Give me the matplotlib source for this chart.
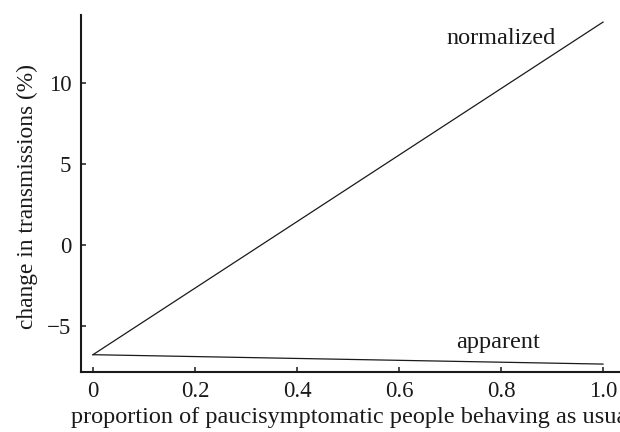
import matplotlib
matplotlib.use("Agg")
import matplotlib.pyplot as plt

plt.rcParams['font.family'] = ['Liberation Serif', 'DejaVu Serif']
plt.rcParams['mathtext.fontset'] = 'stix'

proportion = [0.0, 1.0]
normalized = [-6.77, 13.77]
apparent = [-6.77, -7.35]
xticks = [0, 0.2, 0.4, 0.6, 0.8, 1.0]
xticklabels = ['0', '0.2', '0.4', '0.6', '0.8', '1.0']
yticks = [-5, 0, 5, 10]
yticklabels = ['\u22125', '0', '5', '10']

fig = plt.figure(figsize=(6.2, 4.32), dpi=100)
ax = fig.add_axes([0.1306, 0.1396, 0.8694, 0.8254])

ax.plot(proportion, normalized, color='#1a1a1a', lw=0.9)
ax.plot(proportion, apparent, color='#1a1a1a', lw=0.9)

ax.set_xlim(-0.0235, 1.0333)
ax.set_ylim(-7.82, 14.2)

ax.set_xticks(xticks)
ax.set_xticklabels(xticklabels)
ax.set_yticks(yticks)
ax.set_yticklabels(yticklabels)

for s in ['top', 'right']:
    ax.spines[s].set_visible(False)
for s in ['left', 'bottom']:
    ax.spines[s].set_linewidth(1.5)
    ax.spines[s].set_color('#1a1a1a')

ax.tick_params(direction='in', length=3.5, width=1.1, labelsize=16.5,
               colors='#1a1a1a', pad=7)

ax.text(0.80, 12.75, 'normalized', fontsize=17.5, ha='center', va='center', color='#1a1a1a')
ax.text(0.795, -6.0, 'apparent', fontsize=17.5, ha='center', va='center', color='#1a1a1a')

ax.set_xlabel('proportion of paucisymptomatic people behaving as usual', fontsize=17.5,
              color='#1a1a1a')
ax.xaxis.set_label_coords(-0.018, -0.098)
ax.xaxis.label.set_horizontalalignment('left')
ax.set_ylabel('change in transmissions (%)', fontsize=16.8, color='#1a1a1a')
ax.yaxis.set_label_coords(-0.08, 0.49)

fig.savefig('out.png', dpi=100)
